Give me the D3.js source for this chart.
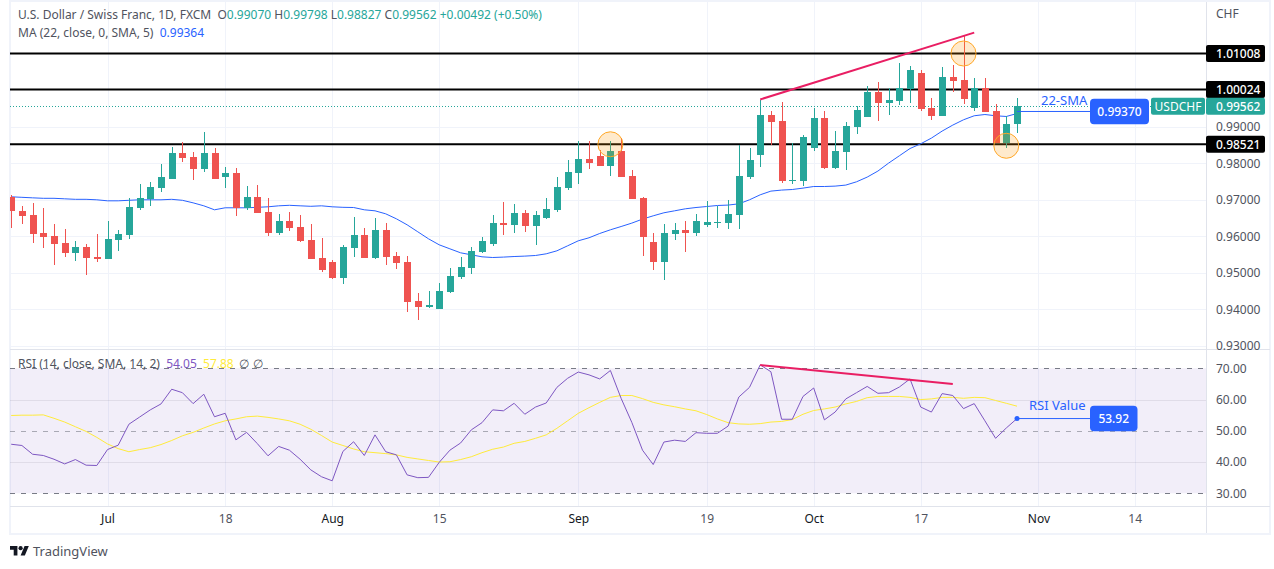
<!DOCTYPE html>
<html lang="en">

<head>
    <meta charset="UTF-8">
    <title>USDCHF 1D chart</title>
    <style>
        body {
            margin: 0;
            padding: 0;
            background-color: #fff;
            overflow: hidden;
        }

        svg {
            display: block;
        }

        text {
            font-family: 'Noto Sans', sans-serif;
            font-size: 12px;
            fill: #50535e;
        }

        .axis text {
            font-size: 12px;
        }

        .axis .domain,
        .axis line {
            display: none;
        }

        .note {
            fill: #2962ff;
            font-size: 13px;
        }

        .tag {
            fill: #fff;
            font-size: 12px;
            font-weight: 500;
        }
    </style>
</head>

<body>
    <svg width="1274" height="569"></svg>

    <script src="https://d3js.org/d3.v7.min.js"></script>
    <script>
        // candles, one per trading day
        const opens = [0.9709, 0.9670, 0.9659, 0.9610, 0.9601, 0.9582, 0.9555, 0.9571, 0.9544, 0.9538,
            0.9590, 0.9604, 0.9678, 0.9703, 0.9733, 0.9758, 0.9829, 0.9818, 0.9785, 0.9829,
            0.9763, 0.9774, 0.9678, 0.9708, 0.9667, 0.9610, 0.9642, 0.9626, 0.9590, 0.9541,
            0.9530, 0.9486, 0.9568, 0.9604, 0.9541, 0.9618, 0.9547, 0.9530, 0.9423, 0.9407,
            0.9401, 0.9448, 0.9489, 0.9514, 0.9557, 0.9579, 0.9637, 0.9631, 0.9664, 0.9629,
            0.9651, 0.9673, 0.9733, 0.9774, 0.9812, 0.9820, 0.9793, 0.9834, 0.9766, 0.9705,
            0.9585, 0.9530, 0.9607, 0.9618, 0.9610, 0.9631, 0.9637, 0.9637, 0.9659, 0.9763,
            0.9823, 0.9933, 0.9916, 0.9752, 0.9752, 0.9842, 0.9925, 0.9788, 0.9831, 0.9900,
            0.9927, 0.9996, 0.9966, 0.9971, 1.0004, 1.0048, 0.9952, 0.9930, 1.0037, 1.0029,
            0.9952, 1.0007, 0.9944, 0.9856, 0.99070];
        const highs = [0.9714, 0.9684, 0.9692, 0.9678, 0.9634, 0.9620, 0.9588, 0.9579, 0.9607, 0.9642,
            0.9618, 0.9705, 0.9744, 0.9749, 0.9799, 0.9845, 0.9859, 0.9831, 0.9886, 0.9842,
            0.9790, 0.9788, 0.9738, 0.9741, 0.9705, 0.9662, 0.9667, 0.9659, 0.9634, 0.9596,
            0.9536, 0.9577, 0.9653, 0.9623, 0.9651, 0.9637, 0.9557, 0.9547, 0.9445, 0.9451,
            0.9472, 0.9514, 0.9544, 0.9571, 0.9599, 0.9659, 0.9694, 0.9689, 0.9673, 0.9670,
            0.9705, 0.9763, 0.9810, 0.9862, 0.9862, 0.9837, 0.9862, 0.9870, 0.9782, 0.9708,
            0.9610, 0.9634, 0.9637, 0.9642, 0.9662, 0.9697, 0.9684, 0.9700, 0.9851, 0.9842,
            0.9974, 0.9944, 0.9968, 0.9856, 0.9878, 0.9952, 0.9944, 0.9889, 0.9914, 0.9958,
            1.0012, 1.0023, 1.0007, 1.0075, 1.0067, 1.0056, 0.9979, 1.0064, 1.0070, 1.0149,
            1.0034, 1.0034, 0.9963, 0.9930, 0.99798];
        const lows = [0.9624, 0.9634, 0.9582, 0.9568, 0.9522, 0.9544, 0.9533, 0.9494, 0.9530, 0.9538,
            0.9560, 0.9593, 0.9673, 0.9684, 0.9722, 0.9758, 0.9804, 0.9755, 0.9777, 0.9758,
            0.9733, 0.9656, 0.9673, 0.9664, 0.9601, 0.9604, 0.9615, 0.9585, 0.9538, 0.9503,
            0.9483, 0.9470, 0.9544, 0.9541, 0.9538, 0.9522, 0.9511, 0.9393, 0.9371, 0.9404,
            0.9401, 0.9445, 0.9483, 0.9497, 0.9555, 0.9574, 0.9604, 0.9610, 0.9612, 0.9577,
            0.9648, 0.9667, 0.9727, 0.9744, 0.9785, 0.9793, 0.9766, 0.9763, 0.9703, 0.9547,
            0.9508, 0.9481, 0.9590, 0.9557, 0.9601, 0.9626, 0.9623, 0.9620, 0.9620, 0.9758,
            0.9790, 0.9851, 0.9747, 0.9744, 0.9738, 0.9834, 0.9785, 0.9785, 0.9782, 0.9881,
            0.9927, 0.9916, 0.9933, 0.9960, 0.9966, 0.9944, 0.9919, 0.9930, 0.9996, 0.9963,
            0.9944, 0.9941, 0.9856, 0.9842, 0.98827];
        const closes = [0.9668, 0.9656, 0.9607, 0.9599, 0.9579, 0.9555, 0.9571, 0.9541, 0.9538, 0.9593,
            0.9607, 0.9681, 0.9705, 0.9736, 0.9763, 0.9829, 0.9815, 0.9785, 0.9829, 0.9758,
            0.9774, 0.9678, 0.9708, 0.9664, 0.9610, 0.9642, 0.9623, 0.9588, 0.9538, 0.9508,
            0.9486, 0.9571, 0.9604, 0.9541, 0.9618, 0.9544, 0.9527, 0.9420, 0.9407, 0.9412,
            0.9451, 0.9492, 0.9516, 0.9560, 0.9588, 0.9637, 0.9631, 0.9664, 0.9629, 0.9659,
            0.9675, 0.9736, 0.9777, 0.9812, 0.9801, 0.9793, 0.9834, 0.9763, 0.9703, 0.9599,
            0.9530, 0.9610, 0.9618, 0.9610, 0.9642, 0.9640, 0.9640, 0.9662, 0.9766, 0.9810,
            0.9933, 0.9914, 0.9752, 0.9755, 0.9873, 0.9925, 0.9788, 0.9834, 0.9903, 0.9947,
            0.9996, 0.9966, 0.9974, 1.0007, 1.0056, 0.9949, 0.9930, 1.0037, 1.0026, 0.9977,
            1.0007, 0.9941, 0.9856, 0.9908, 0.99562];

        // 22 day moving average of the close
        const smaValues = [0.97082, 0.97068, 0.97054, 0.97041, 0.97041, 0.97027, 0.97013, 0.97013, 0.97000, 0.96972,
            0.96972, 0.96986, 0.97000, 0.97000, 0.97000, 0.97013, 0.96986, 0.96917, 0.96835, 0.96726,
            0.96781, 0.96781, 0.96781, 0.96794, 0.96808, 0.96835, 0.96849, 0.96835, 0.96822, 0.96835,
            0.96808, 0.96794, 0.96789, 0.96726, 0.96698, 0.96616, 0.96479, 0.96315, 0.96123, 0.95931,
            0.95767, 0.95657, 0.95548, 0.95493, 0.95438, 0.95419, 0.95430, 0.95446, 0.95457, 0.95474,
            0.95520, 0.95602, 0.95739, 0.95877, 0.95959, 0.96077, 0.96178, 0.96268, 0.96361, 0.96471,
            0.96561, 0.96644, 0.96698, 0.96753, 0.96789, 0.96816, 0.96844, 0.96855, 0.96890, 0.97000,
            0.97137, 0.97238, 0.97266, 0.97282, 0.97320, 0.97364, 0.97364, 0.97375, 0.97403, 0.97493,
            0.97622, 0.97787, 0.98005, 0.98205, 0.98405, 0.98534, 0.98690, 0.98882, 0.99047, 0.99192,
            0.99302, 0.99337, 0.99302, 0.99283, 0.99364];

        const rsiValues = [45.7, 45.3, 42.5, 42.1, 40.9, 39.4, 40.8, 39.0, 38.9, 44.0,
            45.4, 52.1, 54.4, 56.7, 58.6, 63.3, 62.2, 58.7, 61.7, 54.5,
            55.6, 47.1, 49.5, 45.9, 42.0, 45.0, 43.8, 40.9, 37.5, 35.3,
            34.0, 43.4, 46.5, 42.1, 48.7, 43.3, 42.3, 35.9, 35.0, 35.1,
            39.9, 43.8, 46.1, 50.3, 52.6, 56.7, 56.4, 58.8, 55.3, 57.6,
            58.9, 63.9, 66.8, 68.8, 67.9, 66.6, 69.3, 60.4, 52.7, 43.8,
            39.2, 46.4, 47.0, 46.6, 49.4, 49.2, 49.2, 51.5, 60.8, 63.9,
            71.1, 68.9, 53.7, 53.7, 61.0, 63.7, 53.5, 56.0, 60.2, 62.2,
            64.2, 62.0, 62.2, 64.0, 66.6, 57.6, 56.0, 61.9, 61.3, 57.1,
            58.7, 53.2, 47.6, 50.9, 53.92];
        const rsiSmaValues = [54.9, 55.0, 55.0, 55.1, 54.0, 52.8, 51.3, 49.8, 47.9, 45.8,
            44.3, 43.3, 44.0, 44.6, 45.6, 46.9, 48.4, 49.5, 50.9, 52.2,
            53.2, 53.8, 54.5, 54.7, 54.3, 53.8, 53.2, 52.1, 50.5, 48.5,
            46.4, 45.3, 44.2, 43.3, 43.0, 42.7, 42.3, 41.5, 41.0, 40.5,
            40.0, 40.1, 40.8, 41.7, 43.0, 44.1, 44.8, 46.0, 46.6, 47.6,
            48.7, 50.8, 53.2, 55.6, 57.4, 59.1, 60.7, 61.3, 61.3, 60.3,
            59.1, 58.3, 57.7, 57.0, 56.4, 55.2, 53.8, 52.6, 52.2, 52.1,
            52.3, 52.8, 53.0, 53.6, 55.3, 56.5, 57.0, 57.6, 58.6, 59.4,
            60.6, 61.0, 61.0, 61.0, 60.7, 60.0, 60.2, 60.7, 60.7, 60.4,
            60.7, 60.6, 59.7, 58.8, 57.88];

        // axis ticks
        const priceTicks = [0.93, 0.94, 0.95, 0.96, 0.97, 0.98, 0.99];
        const rsiTicks = [30, 40, 50, 60, 70];
        const timeTicks = [9, 20, 30, 40, 53, 65, 75, 85, 96, 105];
        const timeLabels = ["Jul", "18", "Aug", "15", "Sep", "19", "Oct", "17", "Nov", "14"];

        // drawn levels and annotations
        const levels = [1.01008, 1.00024, 0.98521];
        const circleSpots = [[56, 0.98521], [89, 1.01008], [93, 0.9848]];
        const priceTrend = [[70, 0.9975], [90, 1.0158]];
        const rsiTrend = [[70, 71.05], [88, 65]];

        const green = "#26a69a";
        const red = "#ef5350";
        const blue = "#2962ff";
        const pink = "#e91e63";
        const purple = "#7e57c2";
        const yellow = "#ffeb3b";
        const gridColor = "#f0f3fa";
        const lineColor = "#e0e3eb";

        const left = 10, right = 1206;

        const svg = d3.select("svg");

        const x = d3.scaleLinear().domain([0, 105]).range([11.2, 1134.7]);
        const y = d3.scaleLinear().domain([0.93, 1.02]).range([345.8, 17.3]);
        const yRsi = d3.scaleLinear().domain([30, 70]).range([493.3, 368.3]);

        svg.append("clipPath").attr("id", "pane")
            .append("rect")
            .attr("x", left).attr("y", 2)
            .attr("width", right - left).attr("height", 347);

        // outer frame
        svg.append("rect")
            .attr("x", 10).attr("y", 1)
            .attr("width", 1260).attr("height", 533)
            .attr("fill", "#fff")
            .attr("stroke", gridColor)
            .attr("stroke-width", 2);

        // grid
        const grid = svg.append("g");
        grid.selectAll(".v")
            .data(timeTicks)
            .enter().append("line")
            .attr("x1", d => Math.round(x(d)) + 0.5)
            .attr("x2", d => Math.round(x(d)) + 0.5)
            .attr("y1", 2).attr("y2", 506)
            .attr("stroke", gridColor);
        grid.selectAll(".h")
            .data(priceTicks)
            .enter().append("line")
            .attr("x1", left).attr("x2", right)
            .attr("y1", d => Math.round(y(d)) + 0.5)
            .attr("y2", d => Math.round(y(d)) + 0.5)
            .attr("stroke", gridColor);

        // rsi band
        svg.append("rect")
            .attr("x", left).attr("width", right - left)
            .attr("y", yRsi(70)).attr("height", yRsi(30) - yRsi(70))
            .attr("fill", purple).attr("fill-opacity", 0.1);
        svg.selectAll(".rsiGrid")
            .data(rsiTicks)
            .enter().append("line")
            .attr("x1", left).attr("x2", right)
            .attr("y1", d => Math.round(yRsi(d)) + 0.5)
            .attr("y2", d => Math.round(yRsi(d)) + 0.5)
            .attr("stroke", d => d % 20 == 0 ? "rgba(120,123,134,0.15)" : "#787b86")
            .attr("stroke-opacity", d => d == 50 ? 0.6 : 1)
            .attr("stroke-dasharray", d => d % 20 == 0 ? null : "5,6");

        // dividers
        svg.append("line").attr("x1", left).attr("x2", 1270).attr("y1", 349.5).attr("y2", 349.5).attr("stroke", lineColor);
        svg.append("line").attr("x1", left).attr("x2", 1270).attr("y1", 506.5).attr("y2", 506.5).attr("stroke", lineColor);
        svg.append("line").attr("x1", right + 0.5).attr("x2", right + 0.5).attr("y1", 2).attr("y2", 533).attr("stroke", lineColor);

        // last price line
        svg.append("line")
            .attr("x1", left).attr("x2", right)
            .attr("y1", Math.round(y(closes[closes.length - 1])) + 0.5)
            .attr("y2", Math.round(y(closes[closes.length - 1])) + 0.5)
            .attr("stroke", green)
            .attr("stroke-dasharray", "1,2");

        // horizontal levels
        svg.selectAll(".level")
            .data(levels)
            .enter().append("line")
            .attr("x1", left).attr("x2", right)
            .attr("y1", d => y(d)).attr("y2", d => y(d))
            .attr("stroke", "#000")
            .attr("stroke-width", 2);

        // moving average
        const smaLine = d3.line().x((d, i) => x(i)).y(d => y(d));
        svg.append("path")
            .attr("d", smaLine(smaValues))
            .attr("fill", "none")
            .attr("stroke", blue);

        // candles
        const candles = svg.append("g").attr("clip-path", "url(#pane)").selectAll("g")
            .data(opens.map((o, i) => ({ i, o, h: highs[i], l: lows[i], c: closes[i] })))
            .enter().append("g")
            .attr("fill", d => d.c >= d.o ? green : red);
        candles.append("rect")
            .attr("x", d => Math.round(x(d.i)))
            .attr("width", 1)
            .attr("y", d => Math.round(y(d.h)))
            .attr("height", d => Math.round(y(d.l)) - Math.round(y(d.h)));
        candles.append("rect")
            .attr("x", d => Math.round(x(d.i)) - 3)
            .attr("width", 7)
            .attr("y", d => Math.round(y(Math.max(d.o, d.c))))
            .attr("height", d => Math.max(1, Math.round(y(Math.min(d.o, d.c))) - Math.round(y(Math.max(d.o, d.c)))));

        // circles and trend lines on top of the candles
        svg.selectAll(".spot")
            .data(circleSpots)
            .enter().append("circle")
            .attr("cx", d => x(d[0]))
            .attr("cy", d => y(d[1]))
            .attr("r", 12.5)
            .attr("fill", "#ff9800").attr("fill-opacity", 0.2)
            .attr("stroke", "#ffa726");
        svg.append("line")
            .attr("x1", x(priceTrend[0][0])).attr("y1", y(priceTrend[0][1]))
            .attr("x2", x(priceTrend[1][0])).attr("y2", y(priceTrend[1][1]))
            .attr("stroke", pink).attr("stroke-width", 2);

        // rsi lines
        const rsiLine = d3.line().x((d, i) => x(i)).y(d => yRsi(d));
        svg.append("path")
            .attr("d", rsiLine(rsiSmaValues))
            .attr("fill", "none")
            .attr("stroke", yellow);
        svg.append("path")
            .attr("d", rsiLine(rsiValues))
            .attr("fill", "none")
            .attr("stroke", purple);
        svg.append("line")
            .attr("x1", x(rsiTrend[0][0])).attr("y1", yRsi(rsiTrend[0][1]))
            .attr("x2", x(rsiTrend[1][0])).attr("y2", yRsi(rsiTrend[1][1]))
            .attr("stroke", pink).attr("stroke-width", 2);

        // axes
        svg.append("g")
            .attr("class", "axis")
            .attr("transform", `translate(${right + 10},0)`)
            .call(d3.axisRight(y).tickValues(priceTicks).tickFormat(d3.format(".5f")).tickSize(0).tickPadding(0));
        svg.append("g")
            .attr("class", "axis")
            .attr("transform", `translate(${right + 10},0)`)
            .call(d3.axisRight(yRsi).tickValues(rsiTicks).tickFormat(d3.format(".2f")).tickSize(0).tickPadding(0));
        const timeAxis = svg.append("g")
            .attr("class", "axis")
            .attr("transform", "translate(0,507)")
            .call(d3.axisBottom(x).tickValues(timeTicks).tickFormat((d, i) => timeLabels[i]).tickSize(0).tickPadding(7));
        timeAxis.selectAll("text")
            .style("fill", (d, i) => isNaN(timeLabels[i]) ? "#131722" : "#50535e");

        svg.append("text").attr("x", 1216).attr("y", 18).text("CHF");

        // price labels on the axis
        function priceTag(value, fill) {
            svg.append("rect")
                .attr("x", right).attr("width", 59)
                .attr("y", y(value) - 8.5).attr("height", 17)
                .attr("rx", 2)
                .attr("fill", fill);
            svg.append("text")
                .attr("class", "tag")
                .attr("x", right + 10).attr("y", y(value) + 4.5)
                .text(d3.format(".5f")(value));
        }
        levels.forEach(d => priceTag(d, "#000"));
        priceTag(closes[closes.length - 1], green);
        svg.append("rect")
            .attr("x", 1151).attr("width", 54)
            .attr("y", y(closes[closes.length - 1]) - 8.5).attr("height", 17)
            .attr("rx", 2)
            .attr("fill", green);
        svg.append("text")
            .attr("class", "tag")
            .attr("x", 1178).attr("y", y(closes[closes.length - 1]) + 4.5)
            .attr("text-anchor", "middle")
            .style("font-weight", 400)
            .text("USDCHF");

        // callouts
        function callout(anchorIdx, yPos, boxX, boxW, label, value, noteX, noteY) {
            svg.append("line")
                .attr("x1", x(anchorIdx)).attr("x2", boxX)
                .attr("y1", yPos).attr("y2", yPos)
                .attr("stroke", blue);
            svg.append("rect")
                .attr("x", boxX).attr("width", boxW)
                .attr("y", yPos - 12.7).attr("height", 25.4)
                .attr("rx", 4)
                .attr("fill", blue);
            svg.append("text")
                .attr("class", "tag")
                .attr("x", boxX + boxW / 2).attr("y", yPos + 4.5)
                .attr("text-anchor", "middle")
                .text(value);
            svg.append("text")
                .attr("class", "note")
                .attr("x", noteX).attr("y", noteY)
                .text(label);
        }
        callout(94, y(0.9942), 1090, 59, "22-SMA", "0.99370", 1041, 105);
        callout(94, yRsi(53.92), 1090, 47.5, "RSI Value", "53.92", 1029, 410);
        svg.append("circle")
            .attr("cx", x(94)).attr("cy", yRsi(53.92)).attr("r", 2.5)
            .attr("fill", blue);

        // legends
        function legend(yPos, parts) {
            const t = svg.append("text").attr("x", 18).attr("y", yPos).attr("xml:space", "preserve");
            parts.forEach(p => t.append("tspan").style("fill", p[1] || "#50535e").text(p[0]));
        }
        legend(19, [["U.S. Dollar / Swiss Franc, 1D, FXCM  O"], ["0.99070", green], [" H"], ["0.99798", green],
            [" L"], ["0.98827", green], [" C"], ["0.99562", green], [" +0.00492 (+0.50%)", green]]);
        legend(37, [["MA (22, close, 0, SMA, 5)  "], ["0.99364", blue]]);
        legend(368, [["RSI (14, close, SMA, 14, 2)  "], ["54.05", purple], ["  "], ["57.88", yellow]]);
        svg.append("text").attr("x", 239).attr("y", 368).text("∅");
        svg.append("text").attr("x", 253).attr("y", 368).text("∅");

        // logo
        const logo = svg.append("g").attr("transform", "translate(10,543.9) scale(0.53)").attr("fill", "#131722");
        logo.append("path").attr("d", "M14 22H7V11H0V4h14v18zM28 22h-8l7.5-18h8L28 22z");
        logo.append("circle").attr("cx", 20).attr("cy", 8).attr("r", 4);
        svg.append("text").attr("x", 33).attr("y", 556).style("font-size", "13px").style("fill", "#50535e").text("TradingView");
    </script>
</body>

</html>
